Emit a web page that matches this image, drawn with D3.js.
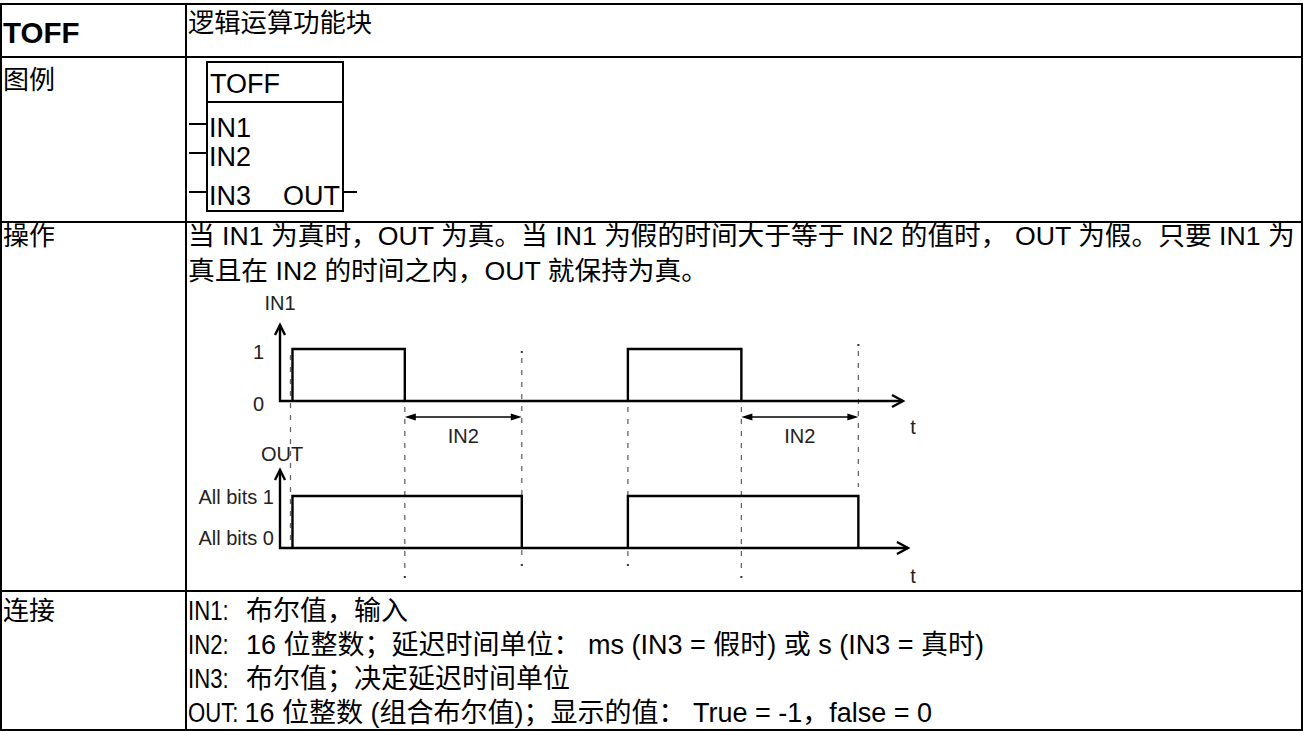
<!DOCTYPE html>
<html><head><meta charset="utf-8">
<script src="https://cdn.jsdelivr.net/npm/d3@7"></script>
<style>
html,body{margin:0;padding:0;background:#fff;}
svg text{white-space:pre;}
</style></head><body>
<svg id="c" width="1303" height="731"></svg>
<script>
// ---------- data ----------
const headerName = "TOFF";
const headerTitle = "逻辑运算功能块";
const rowLabels = ["图例", "操作", "连接"];
const blockTitle = "TOFF";
const blockInputs = ["IN1", "IN2", "IN3"];
const blockOutput = "OUT";
const descLines = [
  "当 IN1 为真时，OUT 为真。当 IN1 为假的时间大于等于 IN2 的值时， OUT 为假。只要 IN1 为",
  "真且在 IN2 的时间之内，OUT 就保持为真。"
];
const connNames = ["IN1:", "IN2:", "IN3:", "OUT:"];
const connTexts = [
  "布尔值，输入",
  "16 位整数；延迟时间单位： ms (IN3 = 假时) 或 s (IN3 = 真时)",
  "布尔值；决定延迟时间单位",
  "16 位整数 (组合布尔值)；显示的值： True = -1，false = 0"
];
const timeDomain = [0, 16];
const in1Rise = [0.32, 8.92];
const in1Fall = [3.2, 11.83];
const delayIN2 = 3;
const outRise = [0.32, 8.92];
const outFall = [6.2, 14.83];
const in1LevelLabels = ["0", "1"];
const outLevelLabels = ["All bits 0", "All bits 1"];
const in1AxisLabel = "IN1", outAxisLabel = "OUT", delayLabel = "IN2", timeLabel = "t";

// ---------- layout ----------
const FONT = "'Liberation Sans', Arial, 'Noto Sans CJK SC', sans-serif";
const svg = d3.select("#c");
const T = {x0: 1, x1: 1302, y0: 4, y1: 730, col: 186, rows: [57, 222, 591]};

const g = svg.append("g").attr("stroke", "#000").attr("stroke-width", 2).attr("fill", "none");
g.append("rect").attr("x", T.x0).attr("y", T.y0).attr("width", T.x1 - T.x0).attr("height", T.y1 - T.y0);
g.append("line").attr("x1", T.col).attr("x2", T.col).attr("y1", T.y0).attr("y2", T.y1);
T.rows.forEach(y => g.append("line").attr("x1", T.x0).attr("x2", T.x1).attr("y1", y).attr("y2", y));

function txt(x, y, s, size, opts = {}) {
  const t = svg.append("text").attr("x", x).attr("y", y).text(s)
    .attr("font-family", FONT).attr("font-size", size)
    .attr("font-weight", opts.bold ? "bold" : "normal")
    .attr("fill", opts.fill || "#000")
    .attr("text-anchor", opts.anchor || "start");
  if (opts.squeeze) {
    const w = t.node().getComputedTextLength();
    t.attr("textLength", w * opts.squeeze).attr("lengthAdjust", "spacingAndGlyphs");
  }
  return t;
}

// header row
txt(3, 43, headerName, 29.5, {bold: true});
txt(188, 32, headerTitle, 26.3);
const labelY = [89, 245, 620];
rowLabels.forEach((s, i) => txt(3, labelY[i], s, 26));

// legend block
const B = {x: 207, y: 62, w: 136, h: 149, div: 102};
const bg = svg.append("g").attr("stroke", "#000").attr("stroke-width", 2).attr("fill", "none");
bg.append("rect").attr("x", B.x).attr("y", B.y).attr("width", B.w).attr("height", B.h);
bg.append("line").attr("x1", B.x).attr("x2", B.x + B.w).attr("y1", B.div).attr("y2", B.div);
txt(B.x + 3, 93, blockTitle, 27);
const pinY = [127, 156, 195];
blockInputs.forEach((s, i) => {
  txt(B.x + 2, pinY[i] + 10, s, 27);
  bg.append("line").attr("x1", B.x - 18).attr("x2", B.x).attr("y1", pinY[i] - 3).attr("y2", pinY[i] - 3);
});
txt(B.x + B.w - 3, pinY[2] + 10, blockOutput, 27, {anchor: "end"});
bg.append("line").attr("x1", B.x + B.w).attr("x2", B.x + B.w + 14).attr("y1", pinY[2] - 3).attr("y2", pinY[2] - 3);

// description
descLines.forEach((s, i) => txt(188, 245 + i * 35, s, 26.7));

// connections
const connY = [620, 654, 688, 722];
connNames.forEach((s, i) => {
  const n = txt(188, connY[i], s, 27, {squeeze: 0.82});
  const nw = +n.attr("textLength");
  txt(i < 3 ? 246 : 188 + nw + 6, connY[i], connTexts[i], 27);
});

// ---------- timing diagram ----------
const x = d3.scaleLinear().domain(timeDomain).range([280, 904]);
const yIn = d3.scaleLinear().domain([0, 1]).range([401, 349]);
const yOut = d3.scaleLinear().domain([0, 1]).range([548, 496]);
const D = svg.append("g");
const LW = 2.4;

const guides = [
  {t: in1Rise[0], dx: -2, y0: yIn(1), y1: yOut(0), dots: []},
  {t: in1Fall[0], dx: 0, y0: yIn(0), y1: yOut(0) + 29, dots: [1]},
  {t: outFall[0], dx: 0, y0: yIn(1) + 3, y1: yOut(0) + 17, dots: [0, 1]},
  {t: in1Rise[1], dx: 0, y0: yIn(0), y1: yOut(0) + 17, dots: [1]},
  {t: in1Fall[1], dx: 0, y0: yIn(0), y1: yOut(0) + 29, dots: [1]},
  {t: outFall[1], dx: 0, y0: yIn(1) - 4, y1: yOut(1) - 3, dots: [0]}
];
guides.forEach(gd => {
  const gx = x(gd.t) + gd.dx;
  D.append("line").attr("x1", gx).attr("x2", gx).attr("y1", gd.y0 + 6).attr("y2", gd.y1 - 6)
    .attr("stroke", "#666").attr("stroke-width", 1.3).attr("stroke-dasharray", "5,7");
  gd.dots.forEach(k => D.append("rect").attr("x", gx - 1).attr("y", (k ? gd.y1 : gd.y0) - 1)
    .attr("width", 2).attr("height", 2).attr("fill", "#333"));
});

function axisArrows(y0, yTop, xEnd) {
  const p = d3.path();
  p.moveTo(x(0), yTop); p.lineTo(x(0), y0); p.lineTo(xEnd, y0);
  D.append("path").attr("d", p.toString()).attr("fill", "none").attr("stroke", "#000").attr("stroke-width", LW);
  const h = d3.path();
  h.moveTo(x(0) - 5, yTop + 10); h.lineTo(x(0), yTop); h.lineTo(x(0) + 5, yTop + 10);
  h.moveTo(xEnd - 11, y0 - 6); h.lineTo(xEnd, y0); h.lineTo(xEnd - 11, y0 + 6);
  D.append("path").attr("d", h.toString()).attr("fill", "none").attr("stroke", "#000")
    .attr("stroke-width", LW).attr("stroke-linejoin", "miter");
}
axisArrows(yIn(0), 325, x(timeDomain[1]) - 1);
axisArrows(yOut(0), 470, x(timeDomain[1]) + 4);

function pulses(rises, falls, ys) {
  rises.forEach((r, i) => {
    const p = d3.path();
    p.moveTo(x(r), ys(0)); p.lineTo(x(r), ys(1)); p.lineTo(x(falls[i]), ys(1)); p.lineTo(x(falls[i]), ys(0));
    D.append("path").attr("d", p.toString()).attr("fill", "none").attr("stroke", "#000")
      .attr("stroke-width", LW).attr("stroke-linejoin", "miter");
  });
}
pulses(in1Rise, in1Fall, yIn);
pulses(outRise, outFall, yOut);

const arrowY = 417;
in1Fall.forEach(f => {
  const a = x(f), b = x(f + delayIN2);
  D.append("line").attr("x1", a + 8).attr("x2", b - 8).attr("y1", arrowY).attr("y2", arrowY)
    .attr("stroke", "#000").attr("stroke-width", 1.5);
  D.append("path").attr("d", `M${a},${arrowY}L${a + 11},${arrowY - 3.5}L${a + 11},${arrowY + 3.5}Z`).attr("fill", "#000");
  D.append("path").attr("d", `M${b},${arrowY}L${b - 11},${arrowY - 3.5}L${b - 11},${arrowY + 3.5}Z`).attr("fill", "#000");
  txt((a + b) / 2, 443, delayLabel, 20, {anchor: "middle", fill: "#222"});
});

const LF = "#222";
txt(x(0), 310, in1AxisLabel, 20, {anchor: "middle", fill: LF});
in1LevelLabels.forEach((s, i) => txt(264, i ? yIn(1) + 10 : yIn(0) + 10, s, 20, {anchor: "end", fill: LF}));
txt(x(0) + 2, 461, outAxisLabel, 20, {anchor: "middle", fill: LF});
outLevelLabels.forEach((s, i) => txt(274, (i ? 504 : 545), s, 20, {anchor: "end", fill: LF}));
txt(913, 434, timeLabel, 20, {anchor: "middle", fill: LF});
txt(913, 583, timeLabel, 20, {anchor: "middle", fill: LF});
</script>
</body></html>
